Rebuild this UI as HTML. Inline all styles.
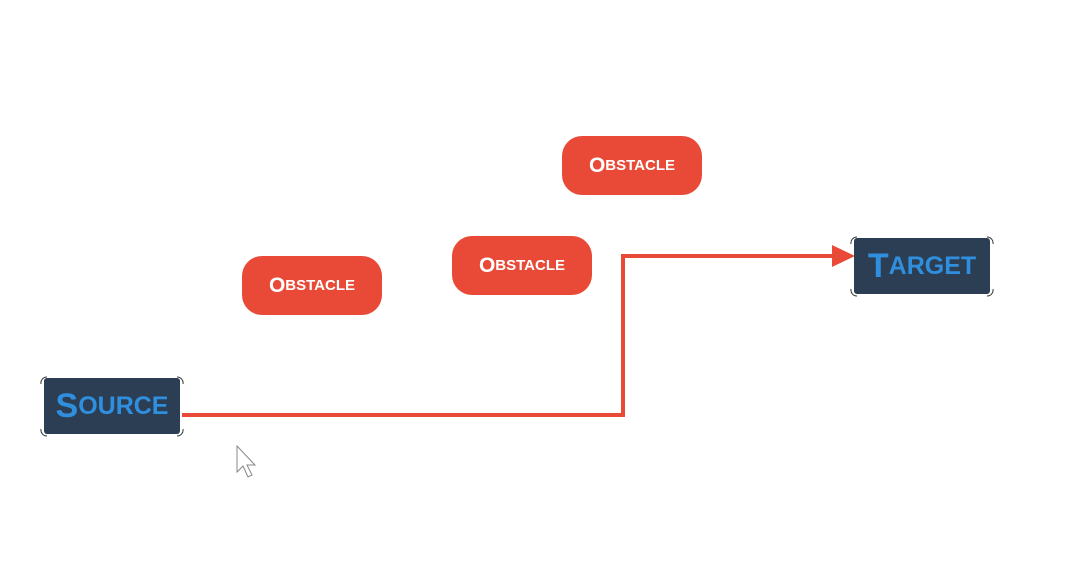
<!DOCTYPE html>
<html><head><style>
body{margin:0;width:1072px;height:572px;background:#fff;position:relative;overflow:hidden;font-family:"Liberation Sans",sans-serif}
.obs{position:absolute;width:140px;height:59px;background:#e84a37;border-radius:20px;color:#fff;font-weight:bold;font-size:15px;display:flex;align-items:center;justify-content:center;letter-spacing:0px}
.obs b{font-size:21px}
.node{position:absolute;width:136px;height:56px;background:#2b3e53;border-radius:3px;color:#2f8fde;font-weight:bold;font-size:25px;display:flex;align-items:center;justify-content:center}
.node b{font-size:34px}
</style></head><body>
<div class="obs" style="left:242px;top:256px"><b>O</b>BSTACLE</div>
<div class="obs" style="left:452px;top:236px"><b>O</b>BSTACLE</div>
<div class="obs" style="left:562px;top:136px"><b>O</b>BSTACLE</div>
<svg width="1072" height="572" style="position:absolute;left:0;top:0">
<polyline points="182,415 623,415 623,256 834,256" fill="none" stroke="#e84a37" stroke-width="4"/>
<polygon points="832,245 855,256 832,267" fill="#e84a37"/>
<g fill="none" stroke="#333" stroke-width="1">
<path d="M41,384 a6,6 0 0 1 6,-7 M177,377 a6,6 0 0 1 6,7 M41,429 a6,6 0 0 0 6,7 M177,436 a6,6 0 0 0 6,-7"/>
<path d="M851,244 a6,6 0 0 1 6,-7 M987,237 a6,6 0 0 1 6,7 M851,289 a6,6 0 0 0 6,7 M987,296 a6,6 0 0 0 6,-7"/>
</g>
<path d="M237,446 L237,472 L243,466 L248,477 L252,475 L247,465 L255,465 Z" fill="#fff" stroke="#888" stroke-width="1"/>
</svg>
<div class="node" style="left:44px;top:378px"><b>S</b>OURCE</div>
<div class="node" style="left:854px;top:238px"><b>T</b>ARGET</div>
</body></html>
